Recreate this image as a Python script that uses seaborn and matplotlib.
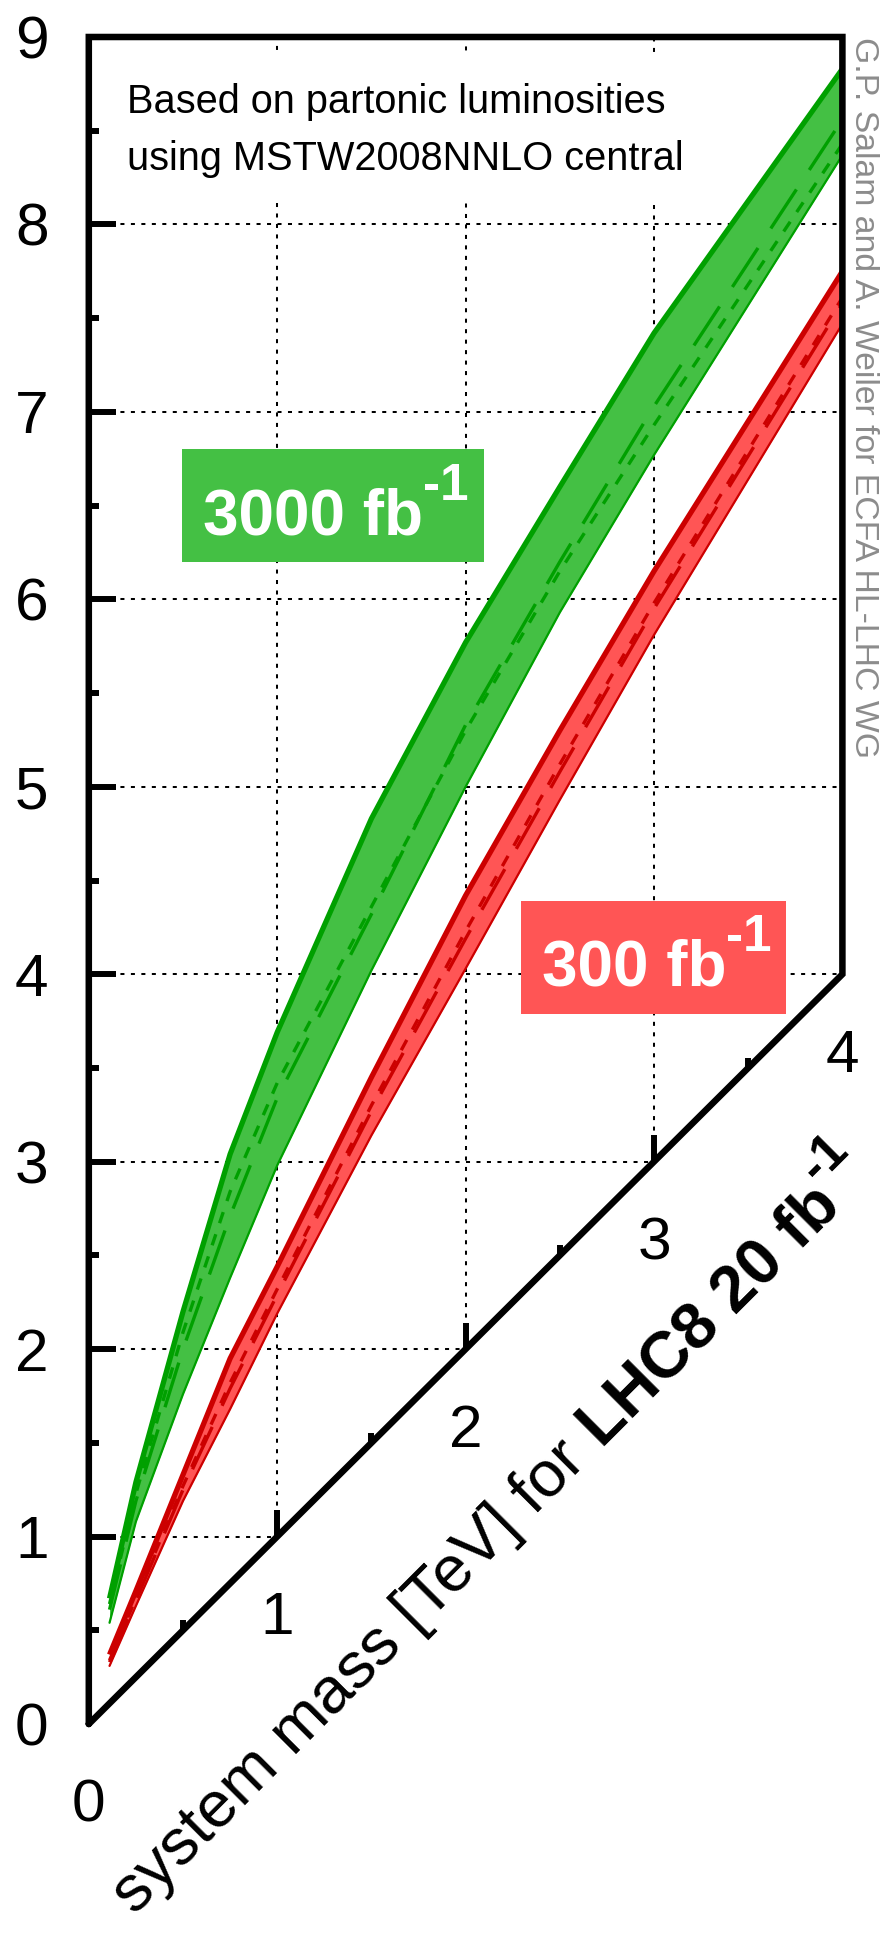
import matplotlib
matplotlib.use("Agg")
import matplotlib.pyplot as plt
from matplotlib.patches import Rectangle
from matplotlib.transforms import IdentityTransform
import numpy as np
import seaborn as sns

# ---------------- data ----------------
lhc8_mass = [0.11, 0.25, 0.5, 0.75, 1.0, 1.5, 2.0, 2.5, 3.0, 4.0]

lumi3000_upper = [0.67, 1.29, 2.20, 3.04, 3.69, 4.83, 5.77, 6.60, 7.42, 8.83]
lumi3000_lower = [0.54, 1.08, 1.76, 2.38, 2.98, 4.02, 5.00, 5.93, 6.77, 8.37]
lumi3000_longdash = [0.61, 1.19, 2.00, 2.71, 3.34, 4.32, 5.33, 6.20, 7.03, 8.56]
lumi3000_shortdash = [0.64, 1.23, 2.09, 2.84, 3.42, 4.36, 5.30, 6.15, 6.93, 8.43]

lumi300_upper = [0.37, 0.71, 1.33, 1.95, 2.44, 3.45, 4.42, 5.30, 6.15, 7.75]
lumi300_lower = [0.31, 0.63, 1.19, 1.68, 2.19, 3.14, 4.03, 4.93, 5.81, 7.47]
lumi300_longdash = [0.33, 0.66, 1.25, 1.79, 2.29, 3.27, 4.19, 5.08, 5.95, 7.58]
lumi300_shortdash = [0.34, 0.67, 1.27, 1.82, 2.32, 3.30, 4.23, 5.12, 5.98, 7.61]

y_ticks = [0, 1, 2, 3, 4, 5, 6, 7, 8, 9]
y_minor = [0.5, 1.5, 2.5, 3.5, 4.5, 5.5, 6.5, 7.5, 8.5]
x_ticks = [0, 1, 2, 3, 4]
x_minor = [0.5, 1.5, 2.5, 3.5]

note_lines = ["Based on partonic luminosities", "using MSTW2008NNLO central"]
credit = "G.P. Salam and A. Weiler for ECFA HL-LHC WG"

# ---------------- style ----------------
sns.set_style("white")
plt.rcParams["font.family"] = ["Liberation Sans", "DejaVu Sans"]
plt.rcParams["text.color"] = "black"

GREEN_FILL = "#44c044"
GREEN_LINE = "#00a000"
RED_FILL = "#ff5555"
RED_LINE = "#cc0000"

fig = plt.figure(figsize=(8.88, 19.34), dpi=100)
ax = fig.add_axes([0.1, 0.10858, 0.84865, 0.87229])
xmax, ymax = x_ticks[-1], y_ticks[-1]
ax.set_xlim(0, xmax)
ax.set_ylim(0, ymax)
ax.axis("off")

# ---------------- grid ----------------
grid_kw = dict(color="black", lw=1.45, linestyle=(0, (2, 3.2)), zorder=1)
for v in y_ticks[1:-1]:
    ax.plot([0, min(v, xmax)], [v, v], **grid_kw)
for v in x_ticks[1:-1]:
    ax.plot([v, v], [v, ymax], **grid_kw)

# white box behind the note
ax.add_patch(Rectangle((0.05, 8.116), 3.3, 0.80, facecolor="white",
                       edgecolor="none", zorder=1.5))

# ---------------- bands ----------------
def band(upper, lower, ld, sd, fill, line):
    ax.fill_between(lhc8_mass, lower, upper, color=fill, lw=0, zorder=2)
    sns.lineplot(x=lhc8_mass, y=lower, ax=ax, color=line, lw=1.6,
                 errorbar=None, zorder=3)
    sns.lineplot(x=lhc8_mass, y=ld, ax=ax, color=line, lw=2.4,
                 linestyle=(0, (14, 7)), errorbar=None, zorder=3)
    sns.lineplot(x=lhc8_mass, y=sd, ax=ax, color=line, lw=2.4,
                 linestyle=(0, (3.5, 3.5)), errorbar=None, zorder=3)
    sns.lineplot(x=lhc8_mass, y=upper, ax=ax, color=line, lw=3.8,
                 errorbar=None, zorder=3.2, solid_capstyle="butt")

band(lumi3000_upper, lumi3000_lower, lumi3000_longdash, lumi3000_shortdash,
     GREEN_FILL, GREEN_LINE)
band(lumi300_upper, lumi300_lower, lumi300_longdash, lumi300_shortdash,
     RED_FILL, RED_LINE)

# ---------------- frame & ticks ----------------
ax.plot([0, 0, xmax, xmax, 0], [0, ymax, ymax, xmax, 0], color="black",
        lw=4.7, solid_joinstyle="miter", clip_on=False, zorder=6)
tick_kw = dict(color="black", lw=4.3, clip_on=False, zorder=6)
for v in y_ticks[1:-1]:
    ax.plot([0, 0.145], [v, v], solid_capstyle="butt", **tick_kw)
for v in y_minor:
    ax.plot([0, 0.055], [v, v], solid_capstyle="butt", **tick_kw)
for v in x_ticks[1:-1]:
    ax.plot([v, v], [v, v + 0.14], solid_capstyle="butt", **tick_kw)
for v in x_minor:
    ax.plot([v, v], [v, v + 0.055], solid_capstyle="butt", **tick_kw)

FS_TICK = 43.5
for v in y_ticks:
    ax.annotate(str(v), xy=(0, v), xytext=(-57, -21.5), textcoords="offset pixels",
                ha="center", va="baseline", fontsize=FS_TICK, color="black")
for v in x_ticks:
    ax.annotate(str(v), xy=(v, v), xytext=(0, -97.5), textcoords="offset pixels",
                ha="center", va="baseline", fontsize=FS_TICK, color="black")

# ---------------- note & credit ----------------
ax.text(0.203, 8.597, note_lines[0], fontsize=28.6, ha="left", va="baseline",
        zorder=7, color="black")
ax.text(0.203, 8.292, note_lines[1], fontsize=28.6, ha="left", va="baseline",
        zorder=7, color="black")

fig.text(855, 1934 - 37, credit, transform=IdentityTransform(), rotation=-90,
         rotation_mode="anchor", ha="left", va="baseline", fontsize=24.3,
         color="#8c8c8c")

# ---------------- rich text helpers ----------------
fig.canvas.draw()
renderer = fig.canvas.get_renderer()

def text_width(s, **kw):
    t = fig.text(0, 0, s, transform=IdentityTransform(), **kw)
    w = t.get_window_extent(renderer).width
    t.remove()
    return w

def space_width(**kw):
    return text_width("a a", **kw) - text_width("aa", **kw)

def rich(x0, y0, ang, parts, zorder=8):
    a = np.deg2rad(ang)
    ux, uy = np.cos(a), np.sin(a)
    cur = 0.0
    for s, kw, dy, adv in parts:
        px = x0 + cur * ux - dy * uy
        py = y0 + cur * uy + dy * ux
        fig.text(px, py, s, transform=IdentityTransform(), rotation=ang,
                 rotation_mode="anchor", ha="left", va="baseline",
                 zorder=zorder, **kw)
        cur += adv

def parts_with_widths(parts):
    out = []
    for s, kw, dy, extra_space in parts:
        w = text_width(s, **kw)
        if extra_space:
            w += space_width(**kw)
        out.append((s, kw, dy, w))
    return out

# luminosity labels
def lumi_label(x0, y0, x1, y1, tx, ty, main, fill):
    ax.add_patch(Rectangle((x0, y0), x1 - x0, y1 - y0, facecolor=fill,
                           edgecolor="none", zorder=4))
    px, py = ax.transData.transform((tx, ty))
    kw_main = dict(fontsize=46, fontweight="bold", color="white")
    kw_sup = dict(fontsize=37, fontweight="bold", color="white")
    parts = parts_with_widths([(main, kw_main, 0, False), ("-1", kw_sup, 35, False)])
    rich(px, py, 0, parts)

lumi_label(0.495, 6.20, 2.098, 6.80, 0.606, 6.345, "3000 fb", GREEN_FILL)
lumi_label(2.294, 3.79, 3.700, 4.39, 2.405, 3.938, "300 fb", RED_FILL)

# x axis label along the diagonal
FS_XL = 47.0
kw_n = dict(fontsize=FS_XL, color="black")
kw_b = dict(fontsize=FS_XL, fontweight="bold", color="black")
kw_s = dict(fontsize=FS_XL * 0.78, fontweight="bold", color="black")
xl_parts = parts_with_widths([
    ("system mass [TeV] for", kw_n, 0, True),
    ("LHC8 20 fb", kw_b, 0, False),
    ("-1", kw_s, 34, False),
])
total = sum(p[3] for p in xl_parts)
ox, oy = ax.transData.transform((0, 0))
ang = 45.0
a = np.deg2rad(ang)
ux, uy = np.cos(a), np.sin(a)
along_center, perp = 420.0, 168.0
start_along = along_center - total / 2
sx = ox + start_along * ux + perp * uy
sy = oy + start_along * uy - perp * ux
rich(sx, sy, ang, xl_parts)

fig.savefig("out.png", dpi=100)
